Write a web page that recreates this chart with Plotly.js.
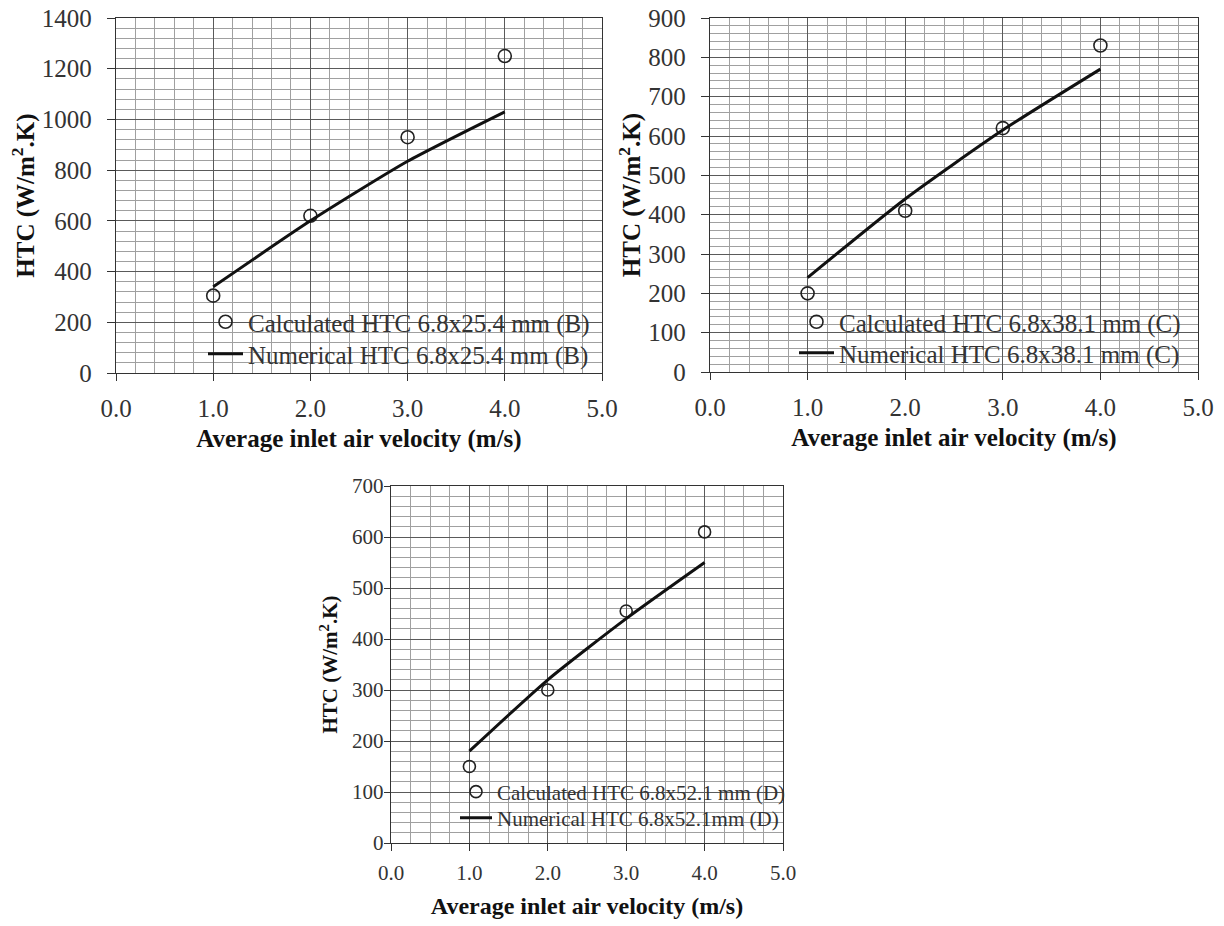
<!DOCTYPE html>
<html>
<head>
<meta charset="utf-8">
<script src="https://cdn.plot.ly/plotly-3.0.1.min.js"></script>
<style>
  html, body { margin: 0; padding: 0; background: #ffffff; }
  #chart { width: 1224px; height: 926px; }
</style>
</head>
<body>
<div id="chart"></div>
<script>
// Average inlet air velocity (m/s)
const velocity = [1.0, 2.0, 3.0, 4.0];

// Heat transfer coefficient, W/m2.K, for three channel sizes
const calcB = [305, 620, 930, 1250];
const numB  = [340, 600, 835, 1030];
const calcC = [200, 410, 620, 830];
const numC  = [240, 440, 615, 770];
const calcD = [150, 300, 455, 610];
const numD  = [180, 320, 440, 550];

const seriesNames = {
  calcB: 'Calculated HTC 6.8x25.4 mm (B)',
  numB:  'Numerical HTC 6.8x25.4 mm (B)',
  calcC: 'Calculated HTC 6.8x38.1 mm (C)',
  numC:  'Numerical HTC 6.8x38.1 mm (C)',
  calcD: 'Calculated HTC 6.8x52.1 mm (D)',
  numD:  'Numerical HTC 6.8x52.1mm (D)'
};

const xTitle = 'Average inlet air velocity (m/s)';
const yTitle = 'HTC (W/m<sup>2</sup>.K)';

const SERIF = 'Liberation Serif';
const W = 1224, H = 926;

function pointTrace(x, y, name, xa, ya, legend, msize) {
  return {
    x: x, y: y, name: name, type: 'scatter', mode: 'markers',
    xaxis: xa, yaxis: ya, legend: legend,
    marker: { symbol: 'circle-open', size: msize, color: '#222', line: { width: 1.6, color: '#222' } }
  };
}
function lineTrace(x, y, name, xa, ya, legend) {
  return {
    x: x, y: y, name: name, type: 'scatter', mode: 'lines',
    xaxis: xa, yaxis: ya, legend: legend,
    line: { color: '#111', width: 3, shape: 'spline', smoothing: 0.6 }
  };
}

const traces = [
  pointTrace(velocity, calcB, seriesNames.calcB, 'x',  'y',  'legend',  13),
  lineTrace (velocity, numB,  seriesNames.numB,  'x',  'y',  'legend2'),
  pointTrace(velocity, calcC, seriesNames.calcC, 'x2', 'y2', 'legend3', 13),
  lineTrace (velocity, numC,  seriesNames.numC,  'x2', 'y2', 'legend4'),
  pointTrace(velocity, calcD, seriesNames.calcD, 'x3', 'y3', 'legend5', 12),
  lineTrace (velocity, numD,  seriesNames.numD,  'x3', 'y3', 'legend6')
];

// pixel box -> paper domain
function dx(a, b) { return [a / W, b / W]; }
function dy(top, bottom) { return [1 - bottom / H, 1 - top / H]; }

function xAxis(o) {
  return {
    domain: o.domain, anchor: o.anchor, range: [0, 5], dtick: 1, tick0: 0,
    tickformat: '.1f', fixedrange: true,
    showgrid: true, gridcolor: '#5a5a5a', gridwidth: 1,
    minor: { dtick: o.minor, showgrid: true, gridcolor: '#a0a0a0', gridwidth: 1 },
    showline: true, linecolor: '#333', linewidth: 1.2, mirror: true,
    ticks: 'outside', ticklen: 7, tickcolor: '#333', zeroline: false,
    ticklabelstandoff: o.labelGap,
    tickfont: { family: SERIF, size: o.fs, color: '#333' },
    title: { text: '<b>' + xTitle + '</b>', standoff: o.standoff,
             font: { family: SERIF, size: o.titleFs, color: '#111' } }
  };
}
function yAxis(o) {
  return {
    domain: o.domain, anchor: o.anchor, range: [0, o.max], dtick: o.step, tick0: 0,
    fixedrange: true,
    showgrid: true, gridcolor: '#5a5a5a', gridwidth: 1,
    minor: { dtick: o.minor, showgrid: true, gridcolor: '#a0a0a0', gridwidth: 1 },
    showline: true, linecolor: '#333', linewidth: 1.2, mirror: true,
    ticks: 'outside', ticklen: o.ticklen, tickcolor: '#333', zeroline: false,
    ticklabelstandoff: o.labelGap,
    tickfont: { family: SERIF, size: o.fs, color: '#333' },
    title: { text: '<b>' + yTitle + '</b>', standoff: o.standoff,
             font: { family: SERIF, size: o.titleFs, color: '#111' } }
  };
}
function legendBox(xpx, ypx, fs, itemwidth) {
  return {
    x: xpx / W, y: 1 - ypx / H, xanchor: 'left', yanchor: 'middle',
    bgcolor: 'rgba(0,0,0,0)', borderwidth: 0, itemwidth: itemwidth,
    font: { family: SERIF, size: fs, color: '#333' },
    itemclick: false, itemdoubleclick: false
  };
}

const topFs = 25, botFs = 21;

const layout = {
  width: W, height: H,
  margin: { l: 0, r: 0, t: 0, b: 0 },
  font: { family: SERIF },
  paper_bgcolor: '#ffffff', plot_bgcolor: '#ffffff',
  showlegend: true,
  xaxis:  xAxis({ domain: dx(116, 602), anchor: 'y', minor: 0.2, fs: topFs, titleFs: topFs, labelGap: 6, standoff: 8 }),
  yaxis:  yAxis({ domain: dy(18, 373), anchor: 'x', max: 1400, step: 200, minor: 40, fs: topFs, titleFs: topFs,
                  ticklen: 8, labelGap: 10, standoff: 0 }),
  xaxis2: xAxis({ domain: dx(710, 1198), anchor: 'y2', minor: 0.2, fs: topFs, titleFs: topFs, labelGap: 6, standoff: 8 }),
  yaxis2: yAxis({ domain: dy(18, 372), anchor: 'x2', max: 900, step: 100, minor: 20, fs: topFs, titleFs: topFs,
                  ticklen: 8, labelGap: 10, standoff: 0 }),
  xaxis3: xAxis({ domain: dx(391, 783), anchor: 'y3', minor: 0.25, fs: botFs, titleFs: 24, labelGap: 4, standoff: 12 }),
  yaxis3: yAxis({ domain: dy(486, 843), anchor: 'x3', max: 700, step: 100, minor: 20, fs: botFs, titleFs: botFs,
                  ticklen: 6, labelGap: -4, standoff: 8 }),
  legend:  legendBox(203, 322, topFs, 35),
  legend2: legendBox(203, 354, topFs, 35),
  legend3: legendBox(794, 322, topFs, 35),
  legend4: legendBox(794, 353, topFs, 35),
  legend5: legendBox(455, 792, botFs, 32),
  legend6: legendBox(455, 818, botFs, 32)
};

Plotly.newPlot('chart', traces, layout, { staticPlot: true, displayModeBar: false });
</script>
</body>
</html>
